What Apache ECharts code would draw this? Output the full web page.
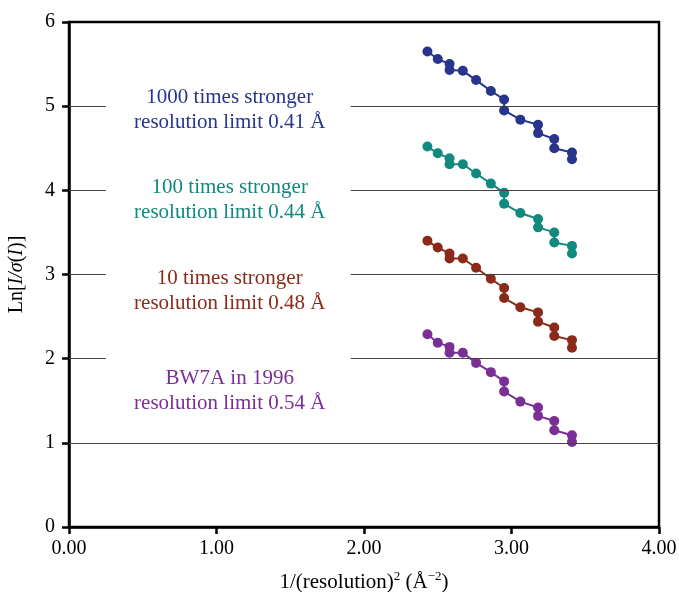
<!DOCTYPE html>
<html>
<head>
<meta charset="utf-8">
<script src="https://cdn.jsdelivr.net/npm/echarts@6/dist/echarts.min.js"></script>
<style>html,body{margin:0;padding:0;background:#fff;}#c{width:679px;height:592px;}</style>
</head>
<body>
<div id="c"></div>
<script>
var xs = [2.43, 2.50, 2.58, 2.58, 2.67, 2.76, 2.86, 2.95, 2.95, 3.06, 3.18, 3.18, 3.29, 3.29, 3.41, 3.41];
var y1000 = [5.65, 5.56, 5.50, 5.43, 5.42, 5.31, 5.18, 5.08, 4.95, 4.84, 4.78, 4.68, 4.61, 4.50, 4.45, 4.37];
var y100  = [4.52, 4.44, 4.38, 4.31, 4.31, 4.20, 4.08, 3.97, 3.84, 3.73, 3.66, 3.56, 3.50, 3.38, 3.34, 3.25];
var y10   = [3.40, 3.32, 3.25, 3.19, 3.19, 3.08, 2.95, 2.84, 2.72, 2.61, 2.55, 2.44, 2.37, 2.27, 2.22, 2.13];
var yBW7A = [2.29, 2.19, 2.14, 2.07, 2.07, 1.95, 1.84, 1.73, 1.61, 1.49, 1.42, 1.32, 1.26, 1.15, 1.09, 1.01];
var xTicks = [0, 1, 2, 3, 4];
var yTicks = [0, 1, 2, 3, 4, 5, 6];
var labels = [
  ['1000 times stronger', 'resolution limit 0.41 Å'],
  ['100 times stronger', 'resolution limit 0.44 Å'],
  ['10 times stronger', 'resolution limit 0.48 Å'],
  ['BW7A in 1996', 'resolution limit 0.54 Å']
];
var colors = ['#27358c', '#12897f', '#8a2a1b', '#7a2f95'];
var brokenGridY = [5, 4, 3, 2];
var fullGridY = [1];
var gapStart = 0.25, gapEnd = 1.91;

var FF = '"Liberation Serif","Times New Roman",serif';
function pairs(ys){ return xs.map(function(x,i){ return [x, ys[i]]; }); }

var gridLines = [];
brokenGridY.forEach(function(y){
  gridLines.push([{coord:[0,y]},{coord:[gapStart,y]}]);
  gridLines.push([{coord:[gapEnd,y]},{coord:[4,y]}]);
});
fullGridY.forEach(function(y){
  gridLines.push([{coord:[0,y]},{coord:[4,y]}]);
});

var series = [{
  type:'line', data:[], silent:true, z:1,
  markLine:{silent:true, symbol:['none','none'], label:{show:false},
    lineStyle:{color:'#444', width:1, type:'solid'}, emphasis:{disabled:true},
    animation:false, data:gridLines}
}];
[y1000, y100, y10, yBW7A].forEach(function(ys, k){
  series.push({
    type:'line', data:pairs(ys), symbol:'circle', symbolSize:10, showAllSymbol:true,
    lineStyle:{color:colors[k], width:2}, itemStyle:{color:colors[k]}, z:3, animation:false
  });
});

var chart = echarts.init(document.getElementById('c'));
var option = {
  animation:false,
  grid:{left:69, right:20, top:22, bottom:65, show:true, borderColor:'#000', borderWidth:2.5,
    containLabel:false, outerBoundsMode:'none'},
  xAxis:{type:'value', min:xTicks[0], max:xTicks[xTicks.length-1], interval:1,
    axisLine:{lineStyle:{color:'#000', width:2.5}},
    axisTick:{show:true, length:7, lineStyle:{color:'#000', width:2.5}},
    splitLine:{show:false},
    axisLabel:{color:'#000', fontSize:20, fontFamily:FF, margin:12, formatter:function(v){return v.toFixed(2);}},
    name:'{a|1/(resolution)}{s|2}{a| (Å}{s|−2}{a|)}', nameLocation:'middle', nameGap:43,
    nameTextStyle:{rich:{
      a:{fontSize:21, fontFamily:FF, color:'#000', lineHeight:24},
      s:{fontSize:13, fontFamily:FF, color:'#000', lineHeight:13, verticalAlign:'top'}
    }}
  },
  yAxis:{type:'value', min:yTicks[0], max:yTicks[yTicks.length-1], interval:1,
    axisLine:{lineStyle:{color:'#000', width:2.5}},
    axisTick:{show:true, length:7, lineStyle:{color:'#000', width:2.5}},
    splitLine:{show:false},
    axisLabel:{color:'#000', fontSize:20, fontFamily:FF, margin:14},
    name:'{a|Ln[}{i|I/σ}{a|(}{i|I}{a|)]}', nameLocation:'middle', nameGap:42, nameRotate:90,
    nameTextStyle:{rich:{
      a:{fontSize:20, fontFamily:FF, color:'#000'},
      i:{fontSize:20, fontFamily:FF, color:'#000', fontStyle:'italic'}
    }}
  },
  series:series
};
chart.setOption(option);

var labelX = 1.09;
var labelY = [4.95, 3.89, 2.81, 1.62];
var gr = labels.map(function(l, k){
  var p = chart.convertToPixel({gridIndex:0}, [labelX, labelY[k]]);
  return {type:'text', x:p[0], y:p[1], z:10,
    style:{text:l[0] + '\n' + l[1], fill:colors[k], font:'21px ' + FF,
      align:'center', verticalAlign:'middle', lineHeight:25}};
});
chart.setOption({graphic:gr});
</script>
</body>
</html>
